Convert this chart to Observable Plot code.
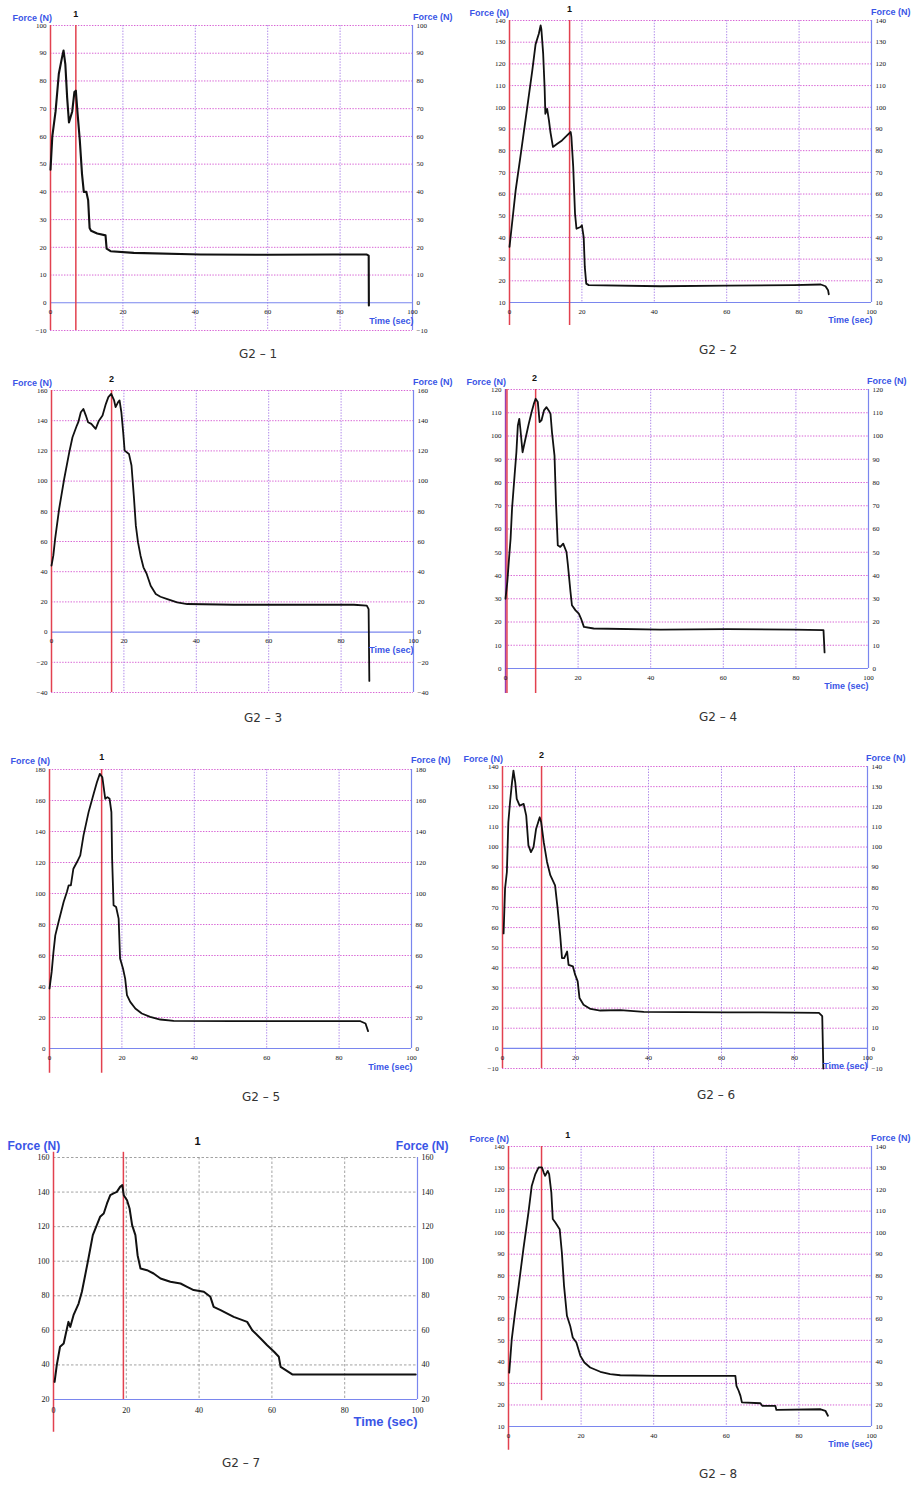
<!DOCTYPE html>
<html>
<head>
<meta charset="utf-8">
<script src="https://cdn.jsdelivr.net/npm/d3@7"></script>
<script src="https://cdn.jsdelivr.net/npm/@observablehq/plot@0.6"></script>
<style>
  html, body { margin: 0; padding: 0; background: #fff; }
  #page { position: relative; width: 913px; height: 1485px; background: #fff; overflow: hidden; }
  .panel { position: absolute; }
  .cap { position: absolute; transform: translate(-50%, -50%); font-family: "DejaVu Sans", sans-serif; font-size: 12px; color: #333; white-space: nowrap; }
</style>
</head>
<body>
<div id="page"></div>
<script>
// ---------------- data ----------------
const xTicks = [0, 20, 40, 60, 80, 100];
const xGrid = [20, 40, 60, 80];

const g1_t = [0,0.5,1.4,2.3,3.2,3.6,4.1,4.6,5.1,6,6.6,7,7.5,8.1,8.7,9.2,9.9,10.4,10.8,11.2,12.9,15.2,15.5,16.6,23,41.4,60,78,87.4,87.9,87.95];
const g1_f = [48,60,69,82.6,88.6,91,86,74,65,69,76,76.5,68,58.5,46.5,40,40,37,27,26,25,24.3,19.5,18.6,18,17.4,17.3,17.4,17.4,17,-1];
const g1_ticks = [-10,0,10,20,30,40,50,60,70,80,90,100];

const g2_t = [0,0.5,1.7,3,4.9,6.3,7.2,8.1,8.6,8.8,9.3,9.7,9.9,10.4,10.9,11.3,12,13.2,14.5,15.9,16.9,17.1,17.6,18.1,18.5,19.6,20,20.5,20.8,21.2,21.9,41.7,60,78.5,86,87.3,88,88.2];
const g2_f = [35.6,43.3,61.7,77,100,117,129,133.9,137.7,136,124.7,109,97,99.3,94,88.6,81.7,83.2,84.7,87,88.6,86.3,72.5,51,44,44.8,45.6,40,26.4,18.7,18,17.5,17.8,18,18.3,17.5,15.7,13.8];
const g2_ticks = [10,20,30,40,50,60,70,80,90,100,110,120,130,140];

const g3_t = [0,0.5,1,2.1,3.5,4.9,5.8,7,7.4,8.1,8.8,9.5,10.1,11,12.2,13.1,14.1,15,15.7,16.5,17.3,17.7,18.4,18.8,19.3,19.8,20.2,21.4,22.1,22.8,23.3,23.9,24.6,25.4,26.3,27.4,28.8,30.1,32,34.7,37.5,50.4,68.8,83.5,87.1,87.6,87.8];
const g3_f = [44,50.6,61.7,81.5,101.4,119,129,136.8,139,145.6,147.8,143.4,139,137.9,134.6,140,143.4,151,155.6,157.8,153.4,149,152.3,153.4,145.6,132.4,120.2,118,110.3,88.2,70.5,59.4,50.6,42.9,38.5,30.7,25.2,23.4,21.9,19.7,18.6,18.1,18.1,18.1,17.5,15.2,-32.3];
const g3_ticks = [-40,-20,0,20,40,60,80,100,120,140,160];

const g4_t = [0,0.5,0.9,1.4,1.8,2.5,3,3.4,3.8,4.1,4.7,5.5,6.4,7.2,7.8,8.3,8.9,9.4,9.9,10.6,11.3,11.9,12.4,12.8,13.5,13.9,14.4,15.1,15.9,16.8,17.2,17.9,18.3,19.3,20.2,20.8,21.6,24.3,42.7,61,79.4,87.6,87.9];
const g4_f = [30,37.2,45.8,55.8,68.7,83,93,104.5,107.4,103,93,98.8,105.2,110.3,113.8,116,114.6,106,106.7,111,112.4,111,109.5,101.7,91.6,71.6,53,52.3,53.7,50.1,44.4,33,27.2,25,23.6,21.5,17.9,17.2,16.7,16.9,16.7,16.5,6.9];
const g4_ticks = [0,10,20,30,40,50,60,70,80,90,100,110,120];

const g5_t = [0,0.6,1.1,1.6,2.5,3.9,4.8,5.3,5.9,6.6,7.6,8.5,9.4,10.8,12.2,13.1,13.9,14.6,14.9,15.4,16,16.6,17.1,17.3,17.7,18.4,19.1,19.5,20.3,20.9,21.4,22.3,23.7,25.5,27.8,30.6,34.3,50.9,69.3,85.9,87.3,88];
const g5_f = [38.7,49.4,62.3,73,81.6,94.5,101,105.3,105.3,116,120.3,124.6,137.5,152.5,164.3,171.8,177.2,175,169.7,161.1,162.2,161.1,152.5,122.4,92.4,91.3,83.8,58,51.6,45.1,34.4,30.1,25.8,22.6,20.4,18.7,17.8,17.6,17.6,17.6,16.1,11.2];
const g5_ticks = [0,20,40,60,80,100,120,140,160,180];

const g6_t = [0.3,0.7,1.2,1.6,2.1,2.6,3,3.5,3.9,4.7,5.8,6.5,7.1,7.8,8.5,9.2,10.2,10.6,11.3,12.2,13.1,14.4,15.1,15.8,16.3,16.9,17.7,18.1,19.3,19.9,20.6,21.1,22.2,24.1,26.8,32.3,38.7,61.6,79.9,86.7,87.6,87.9];
const g6_f = [57.1,79.4,87.6,112.3,123,132,137.9,132,123.9,120.6,121.4,115.6,100.8,97.5,100,109,114.8,112.3,102.4,92.6,86,81,69.5,56.3,44.8,44.8,48.1,41.5,40.7,36.6,33.3,25,21.7,19.6,18.8,19,18.1,17.9,17.8,17.6,16,-10];
const g6_ticks = [-10,0,10,20,30,40,50,60,70,80,90,100,110,120,130,140];

const g7_t = [0.3,0.9,1.8,2.8,3.5,4.1,4.6,5.5,6.9,7.8,8.7,9.6,10.8,11.9,12.8,13.8,14.7,15.6,16.5,17.4,18.3,18.9,19.3,20.2,20.9,21.6,22.5,23.1,23.9,25.7,27.5,29.4,32.1,34.9,36.7,38.5,41.3,43.1,44,45.9,49.5,53.2,54.6,56.9,58.7,60.6,61.9,62.4,63.8,65.6,99.5];
const g7_f = [30.2,39.9,50.5,52.4,59.2,64.9,62,68.8,75.5,82.3,91.9,101.6,115.1,120.9,125.7,127.6,133.4,138.2,139.2,140.1,143,144,138.2,135.3,130.5,120.9,115.1,103.5,95.8,94.8,92.9,90,88.1,87.1,85.2,83.3,82.3,79.4,73.6,71.7,67.8,64.9,60.1,55.3,51.4,47.6,44.7,38.9,37,34.5,34.5];
const g7_ticks = [20,40,60,80,100,120,140,160];

const g8_t = [0.2,0.9,1.8,2.8,4.1,5.5,6.4,7.4,8.3,9.2,9.7,10.1,10.8,11.2,11.8,12.2,12.9,14.1,14.7,15.3,16.1,17,17.7,18.7,19.8,20.9,22.5,25.3,28,30.8,41.8,62.5,62.8,63.4,63.9,64.3,69.4,69.9,73.5,73.8,86,87.3,88];
const g8_f = [35,50.6,62.9,75.3,92.3,109.4,121.7,127.2,130.3,130.3,127.9,126.4,128.7,127.2,118.6,106.3,104.7,101.6,90.8,75.3,61.4,56.7,51.3,49,42.8,39.7,37.4,35.4,34.3,33.8,33.5,33.5,28.9,26.6,24.2,21.2,20.8,19.6,19.6,17.7,18,17.3,15];
const g8_ticks = [10,20,30,40,50,60,70,80,90,100,110,120,130,140];

const captions = ["G2 – 1","G2 – 2","G2 – 3","G2 – 4","G2 – 5","G2 – 6","G2 – 7","G2 – 8"];
const markerLabels = ["1","1","2","2","1","2","1","1"];
const markerLabelX = [7, 16.6, 16.6, 8, 14.4, 10.7, 39.6, 16.3];
const redX = [[0,7],[0,16.6],[0,16.6],[0.4,8.3],[0,14.4],[0,10.7],[0,19.2],[0,9.1]];

// ---------------- layout ----------------
const layout = [
  {t:g1_t,f:g1_f,ticks:g1_ticks, sx:0,  sy:0,   xL:50, xR:412, yT:25,  yB:330,  base:0,  red:[[ -10,100],[-10,100]], fy:14,   fL:12,  fR:452, tR:413, tY:323,  cx:258, cy:354, lw:2.1},
  {t:g2_t,f:g2_f,ticks:g2_ticks, sx:456,sy:0,   xL:509,xR:871, yT:20,  yB:302,  base:10, red:[[-0.6,140],[-0.6,140]], fy:9,    fL:469, fR:910, tR:872, tY:322,  cx:718, cy:350, lw:1.8},
  {t:g3_t,f:g3_f,ticks:g3_ticks, sx:0,  sy:365, xL:51, xR:413, yT:390, yB:692,  base:0,  red:[[-40,160],[-40,160]], fy:379,  fL:12,  fR:452, tR:413, tY:652,  cx:263, cy:718, lw:1.8},
  {t:g4_t,f:g4_f,ticks:g4_ticks, sx:456,sy:365, xL:505,xR:868, yT:389, yB:668,  base:0,  red:[[-10.7,120],[-10.7,120]], fy:378, fL:466, fR:906, tR:868, tY:688,  cx:718, cy:717, lw:1.8, purple:true},
  {t:g5_t,f:g5_f,ticks:g5_ticks, sx:0,  sy:745, xL:49, xR:411, yT:769, yB:1048, base:0,  red:[[-16,180],[-16,180]], fy:757,  fL:10,  fR:450, tR:412, tY:1069, cx:261, cy:1097, lw:1.8},
  {t:g6_t,f:g6_f,ticks:g6_ticks, sx:456,sy:745, xL:502,xR:867, yT:766, yB:1068, base:0,  red:[[-10,140],[-10,140]], fy:755,  fL:463, fR:905, tR:867, tY:1068, cx:716, cy:1095, lw:1.8},
  {t:g7_t,f:g7_f,ticks:g7_ticks, sx:0,  sy:1125,xL:53, xR:417, yT:1157,yB:1399, base:20, red:[[1,163],[20,163]], fy:1141, fL:7, fR:448, tR:417, tY:1425, cx:241, cy:1463, lw:2, gray:true},
  {t:g8_t,f:g8_f,ticks:g8_ticks, sx:456,sy:1125,xL:508,xR:871, yT:1146,yB:1426, base:10, red:[[-1,140],[22,140]], fy:1135, fL:469, fR:910, tR:872, tY:1446, cx:718, cy:1474, lw:1.8}
];

const page = document.getElementById("page");
const blue = "#3a55e6";
const axisBlue = "#7a86ee";
const redC = "#e2414f";

layout.forEach((L, i) => {
  const W = 456, H = 345;
  const data = L.t.map((t, k) => ({t, f: L.f[k]}));
  const ymin = L.ticks[0], ymax = L.ticks[L.ticks.length - 1];
  const big = !!L.gray;
  const tickFs = big ? 8 : 7;
  const reds = redX[i].map((x, k) => ({x, lo: L.red[k][0], hi: L.red[k][1]}));
  const gridTicks = L.ticks.filter(v => v !== L.base);
  const hGrid = L.gray
    ? {stroke: "#8a8a8a", strokeWidth: 0.8, strokeDasharray: "2.5,2"}
    : {stroke: "#d452d0", strokeWidth: 0.9, strokeDasharray: "1.4,1.4"};
  const vGrid = L.gray
    ? {stroke: "#8a8a8a", strokeWidth: 0.8, strokeDasharray: "2.5,2"}
    : {stroke: "#a57ae6", strokeWidth: 0.9, strokeDasharray: "1.4,1.4"};
  const titleFont = big ? "'Liberation Sans Narrow', 'Liberation Sans', sans-serif" : "'Liberation Sans', sans-serif";
  const titleSize = big ? 12 : 9;

  const marks = [
    Plot.ruleY(gridTicks, {y: d => d, ...hGrid}),
    Plot.ruleX(xGrid, {x: d => d, ...vGrid}),
    Plot.ruleY([L.base], {y: d => d, stroke: axisBlue, strokeWidth: 1.2}),
    Plot.ruleX([100], {x: d => d, stroke: axisBlue, strokeWidth: 1.2}),
  ];
  if (L.purple) marks.push(Plot.ruleX([0], {x: d => d, y1: -10.7, y2: ymax, stroke: "#9a3fb0", strokeWidth: 1.4}));
  marks.push(
    Plot.ruleX(reds, {x: "x", y1: "lo", y2: "hi", stroke: redC, strokeWidth: 1.5}),
    Plot.axisY(L.ticks, {anchor: "left", tickSize: 0, tickPadding: 4, label: null, fontSize: tickFs, fill: "#111"}),
    Plot.axisY(L.ticks, {anchor: "right", tickSize: 0, tickPadding: 4, label: null, fontSize: tickFs, fill: "#111"}),
    Plot.text(xTicks, {x: d => d, y: () => L.base, dy: big ? 11 : 9, fontSize: tickFs, fill: "#111"}),
    Plot.line(data, {x: "t", y: "f", stroke: "#111", strokeWidth: L.lw, strokeLinejoin: "round"}),
    Plot.text([markerLabels[i]], {x: () => markerLabelX[i], y: () => ymax, dy: L.fy - L.yT, fontFamily: "'Liberation Sans', sans-serif", fontWeight: "bold", fontSize: big ? 11 : 9, fill: "#111"}),
    Plot.text(["Force (N)"], {frameAnchor: "top-left", dx: L.fL - L.xL, dy: L.fy - L.yT, textAnchor: "start", fontFamily: titleFont, fontWeight: "bold", fontSize: titleSize, fill: blue}),
    Plot.text(["Force (N)"], {frameAnchor: "top-right", dx: L.fR - L.xR, dy: L.fy - L.yT - (big ? 0 : 1), textAnchor: "end", fontFamily: titleFont, fontWeight: "bold", fontSize: titleSize, fill: blue}),
    Plot.text(["Time (sec)"], {frameAnchor: "bottom-right", dx: L.tR - L.xR, dy: L.tY - L.yB, textAnchor: "end", fontFamily: titleFont, fontWeight: "bold", fontSize: big ? 13 : 9, fill: blue})
  );

  const svg = Plot.plot({
    width: W,
    height: H,
    marginLeft: L.xL - L.sx,
    marginRight: L.sx + W - L.xR,
    marginTop: L.yT - L.sy,
    marginBottom: L.sy + H - L.yB,
    x: {domain: [0, 100], axis: null},
    y: {domain: [ymin, ymax], axis: null},
    style: {background: "transparent", overflow: "visible", fontFamily: "'Liberation Serif', serif", fontSize: tickFs + "px", color: "#111"},
    marks
  });
  const holder = document.createElement("div");
  holder.className = "panel";
  holder.style.left = L.sx + "px";
  holder.style.top = L.sy + "px";
  holder.appendChild(svg);
  page.appendChild(holder);

  const cap = document.createElement("div");
  cap.className = "cap";
  cap.textContent = captions[i];
  cap.style.left = L.cx + "px";
  cap.style.top = L.cy + "px";
  page.appendChild(cap);
});
</script>
</body>
</html>
